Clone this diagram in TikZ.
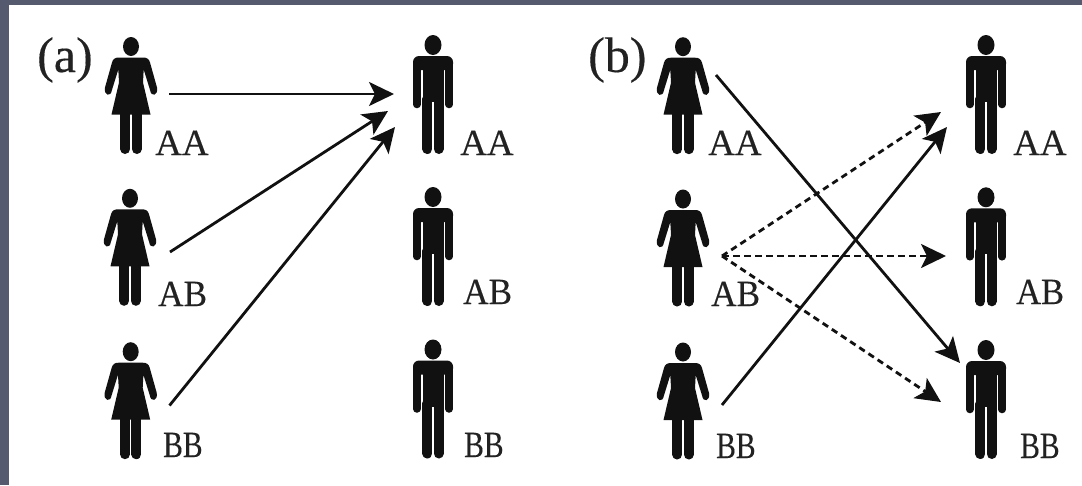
\documentclass[tikz,border=0pt]{standalone}
\usepackage{fontspec}
\setmainfont[FakeBold=0.25]{Liberation Serif}
\usetikzlibrary{arrows.meta,calc}
\definecolor{frame}{HTML}{565A6E}
\definecolor{ink}{HTML}{111111}
\definecolor{txt}{HTML}{222222}
\tikzset{
  arr/.style={draw=ink,line width=2.8pt,-{Stealth[length=25pt,width=24pt,inset=6pt]}},
  dasharr/.style={arr,dash pattern=on 6.5pt off 4.5pt},
  gt/.style={anchor=base west,inner sep=0pt,text=txt,font=\fontsize{37}{37}\selectfont},
  panel/.style={anchor=base west,inner sep=0pt,text=txt,font=\fontsize{50}{50}\selectfont},
  woman/.pic={
    \node[inner sep=0pt,minimum size=0pt] (-c) at (0,0) {};
    \fill[ink] (0,0) ellipse [x radius=8,y radius=9.5];
    \fill[ink] (-12,11) -- (12,11) .. controls (16,11) and (18,12.5) .. (19,16)
      -- (26,41) .. controls (27.5,49.5) and (20,50.5) .. (19.2,44)
      -- (12.7,23) -- (12,36) -- (19.5,68) -- (-19.5,68) -- (-12,36) -- (-12.7,23)
      -- (-19.2,44) .. controls (-20,50.5) and (-27.5,49.5) .. (-26,41)
      -- (-19,16) .. controls (-18,12.5) and (-16,11) .. (-12,11) -- cycle;
    \draw[ink,line width=10pt,line cap=round] (-5.7,66) -- (-5.7,102.5) (5.7,66) -- (5.7,102.5);
  },
  man/.pic={
    \node[inner sep=0pt,minimum size=0pt] (-c) at (0,0) {};
    \fill[ink] (0,0) ellipse [x radius=8.5,y radius=10];
    \fill[ink,rounded corners=6pt] (-20,25) -- (-20,11) -- (20,11) -- (20,25) -- cycle;
    \fill[ink] (-10.5,20) rectangle (10.5,57);
    \draw[ink,line width=7.5pt,line cap=round] (-16.2,18) -- (-16.2,59.5) (16.2,18) -- (16.2,59.5);
    \draw[ink,line width=10pt,line cap=round] (-5.6,54) -- (-5.6,104) (5.6,54) -- (5.6,104);
  }
}
\begin{document}
\begin{tikzpicture}[x=1pt,y=-1pt]
\useasboundingbox (0,0) rectangle (1082,485);
\fill[frame] (0,0) rectangle (1082,485);
\fill[white] (9,5) rectangle (1082,485);

\pic (aW1) at (131,46.5) {woman};
\pic (aW2) at (130,198.3) {woman};
\pic (aW3) at (130.7,351.7) {woman};
\pic (aM1) at (433,45) {man};
\pic (aM2) at (433,197) {man};
\pic (aM3) at (433,349.5) {man};
\pic (bW1) at (683,46.7) {woman};
\pic (bW2) at (683,199) {woman};
\pic (bW3) at (683,352) {woman};
\pic (bM1) at (986,45) {man};
\pic (bM2) at (986,197.3) {man};
\pic (bM3) at (986,350) {man};

\node[panel] (pa) at (37,72) {(a)};
\node[panel] (pb) at (588,72) {(b)};

\node[gt,xscale=1.0] (la1) at (155,155) {AA};
\node[gt,xscale=.95] (la2) at (158,306) {AB};
\node[gt,xscale=.80] (la3) at (163,457) {BB};
\node[gt,xscale=1.0] (lb1) at (460,155) {AA};
\node[gt,xscale=.95] (lb2) at (463,304) {AB};
\node[gt,xscale=.80] (lb3) at (464,457) {BB};
\node[gt,xscale=1.0] (lc1) at (708,155) {AA};
\node[gt,xscale=.95] (lc2) at (711,306) {AB};
\node[gt,xscale=.80] (lc3) at (716,458) {BB};
\node[gt,xscale=1.0] (ld1) at (1013,155) {AA};
\node[gt,xscale=.93] (ld2) at (1016,304) {AB};
\node[gt,xscale=.80] (ld3) at (1020,458) {BB};

\draw[arr] ($(aW1-c)+(38,47.5)$) -- ($(aM1-c)+(-39,49)$);
\draw[arr] ($(aW2-c)+(40,53.7)$) -- ($(aM1-c)+(-45,66)$);
\draw[arr] ($(aW3-c)+(38.8,53.8)$) -- ($(aM1-c)+(-38,82)$);

\draw[arr] ($(bW1-c)+(33,28.3)$) -- ($(bM3-c)+(-26,13)$);
\draw[arr] ($(bW3-c)+(39,53)$) -- ($(bM1-c)+(-39,82)$);
\draw[dasharr] ($(bW2-c)+(39,57)$) -- ($(bM1-c)+(-45,67)$);
\draw[dasharr] ($(bW2-c)+(39,57)$) -- ($(bM2-c)+(-40,58.7)$);
\draw[dasharr] ($(bW2-c)+(39,57)$) -- ($(bM3-c)+(-45,52)$);
\end{tikzpicture}
\end{document}
